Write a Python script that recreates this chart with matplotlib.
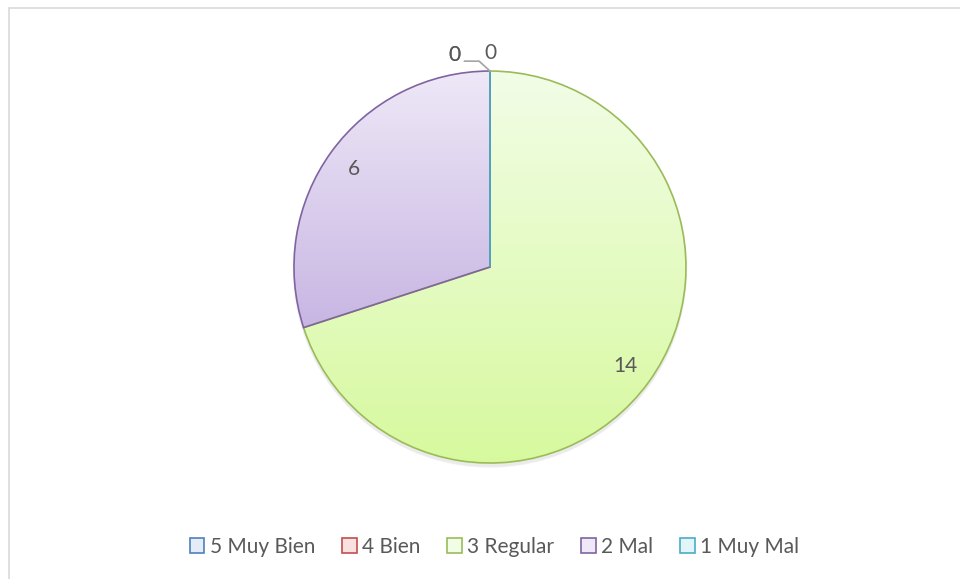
import matplotlib.pyplot as plt
import matplotlib.colors as mcolors
from matplotlib.patches import Rectangle, Circle
import numpy as np

categories = ['5 Muy Bien', '4 Bien', '3 Regular', '2 Mal', '1 Muy Mal']
values = [0, 0, 14, 6, 0]
edge_colors = ['#4f81bd', '#c0504d', '#9bbb59', '#8064a2', '#4bacc6']
top_colors = ['#e4ecf7', '#f9e1e1', '#f2fde7', '#eee8f7', '#e2f5fb']
bottom_colors = ['#b7cde9', '#f2b6b5', '#d7f99e', '#c8b6e3', '#b3e6f3']

text_color = '#595959'
plt.rcParams['font.family'] = ['Lato', 'DejaVu Sans']

fig = plt.figure(figsize=(9.6, 5.79), dpi=100)
fig.patches.append(Rectangle((9 / 960, -0.1), 1.1, (579 - 8) / 579 + 0.1,
                             transform=fig.transFigure, fill=False,
                             edgecolor='#d9d9d9', linewidth=1.2))

ax = fig.add_axes([0.2654, 0.1326, 0.49, 0.8124])
ax.set_xlim(-1.2, 1.2)
ax.set_ylim(-1.2, 1.2)
ax.axis('off')

# soft shadow under the pie
for i, a in enumerate([0.04, 0.05, 0.06]):
    ax.add_patch(Circle((0.0, -0.012 - 0.006 * i), 1.0 + 0.004 * (2 - i),
                        facecolor='#7f7f7f', edgecolor='none', alpha=a, zorder=1))

wedges, _ = ax.pie(values, startangle=90, counterclock=False, radius=1.0,
                   colors=['none'] * len(values),
                   wedgeprops=dict(linewidth=1.2))

grad = np.linspace(0, 1, 256).reshape(-1, 1)
for w, v, ec, tc, bc in zip(wedges, values, edge_colors, top_colors, bottom_colors):
    w.set_edgecolor(ec)
    w.set_facecolor('none')
    w.set_zorder(3)
    if v > 0:
        bb = w.get_path().get_extents()
        cmap = mcolors.LinearSegmentedColormap.from_list('g', [tc, bc])
        im = ax.imshow(grad, extent=(-1, 1, bb.y0, bb.y1), origin='upper', cmap=cmap,
                       aspect='auto', zorder=2, interpolation='bilinear')
        im.set_clip_path(w)
ax.set_xlim(-1.2, 1.2)
ax.set_ylim(-1.2, 1.2)

# value labels
zero_done = 0
for w, v in zip(wedges, values):
    mid = np.deg2rad((w.theta1 + w.theta2) / 2)
    if v > 0:
        x, y = 0.855 * np.cos(mid), 0.855 * np.sin(mid)
        ax.text(x, y, str(v), ha='center', va='center', fontsize=15,
                color=text_color, zorder=5)
    else:
        zero_done += 1
        if zero_done < 3:
            ax.plot([0, -0.055, -0.13], [1.0, 1.05, 1.05], color='#a6a6a6',
                    linewidth=1.0, zorder=4)
            ax.text(-0.18, 1.08, str(v), ha='center', va='center', fontsize=15,
                    color=text_color, zorder=5)
        else:
            ax.text(0.0, 1.09, str(v), ha='center', va='center', fontsize=15,
                    color=text_color, zorder=5)

handles = [Rectangle((0, 0), 1, 1, facecolor=tc, edgecolor=ec, linewidth=1.2)
           for tc, ec in zip(top_colors, edge_colors)]
leg = fig.legend(handles, categories, loc='center', bbox_to_anchor=(0.515, 0.056),
                 ncol=5, frameon=False, fontsize=15, handlelength=0.7,
                 handleheight=0.7, handletextpad=0.25, columnspacing=1.3)
for t in leg.get_texts():
    t.set_color(text_color)

fig.savefig('out.png', dpi=100)
